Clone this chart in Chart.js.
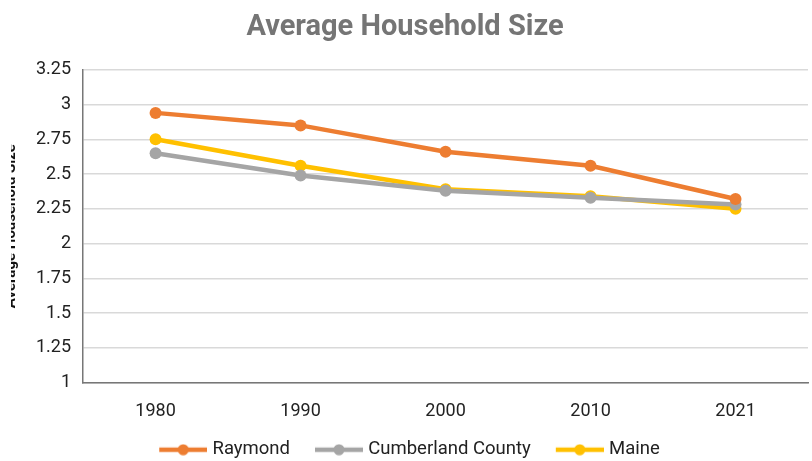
<!DOCTYPE html>
<html>
<head>
<meta charset="utf-8">
<script src="https://cdn.jsdelivr.net/npm/chart.js@4"></script>
<style>
  html, body { margin: 0; padding: 0; background: #fff; overflow: hidden; }
  #clip { position: absolute; left: 11px; top: 0; width: 801px; height: 461px; overflow: hidden; }
  #wrap { position: relative; width: 812px; height: 461px; margin-left: -9px; }
</style>
</head>
<body>
<div id="clip"><div id="wrap"><canvas id="chart"></canvas></div></div>
<script>
const years = ['1980', '1990', '2000', '2010', '2021']
const raymond = [2.94, 2.85, 2.66, 2.56, 2.32]
const cumberland = [2.65, 2.49, 2.38, 2.33, 2.28]
const maine = [2.75, 2.56, 2.39, 2.34, 2.25]
const yTicks = [1, 1.25, 1.5, 1.75, 2, 2.25, 2.5, 2.75, 3, 3.25]

const FONT = 'Roboto, "Noto Sans", sans-serif'

// "line with a dot" legend marker; transparent strip on the left widens the gap between items
function legendMarker(color) {
  const c = document.createElement('canvas')
  c.width = 61
  c.height = 12
  const ctx = c.getContext('2d')
  ctx.strokeStyle = color
  ctx.lineWidth = 4.5
  ctx.beginPath()
  ctx.moveTo(13, 6)
  ctx.lineTo(61, 6)
  ctx.stroke()
  ctx.fillStyle = color
  ctx.beginPath()
  ctx.arc(37, 6, 5.5, 0, Math.PI * 2)
  ctx.fill()
  return c
}

function series(label, data, color) {
  return {
    label,
    data,
    borderColor: color,
    backgroundColor: color,
    borderWidth: 4.5,
    pointRadius: 6,
    pointHoverRadius: 6,
    pointBorderWidth: 0,
    tension: 0,
    marker: legendMarker(color),
  }
}

new Chart(document.getElementById('chart'), {
  type: 'line',
  data: {
    labels: years,
    datasets: [
      series('Raymond', raymond, '#ED7D31'),
      series('Cumberland County', cumberland, '#A5A5A5'),
      series('Maine', maine, '#FFC000'),
    ],
  },
  options: {
    responsive: true,
    maintainAspectRatio: false,
    animation: false,
    layout: { padding: { left: 0, right: 6, top: 10, bottom: -8 } },
    plugins: {
      title: {
        display: true,
        text: 'Average Household Size',
        color: '#757575',
        font: { family: FONT, size: 29, weight: 'bold' },
        padding: { top: 0, bottom: 25 },
      },
      legend: {
        position: 'bottom',
        labels: {
          color: '#222',
          font: { family: FONT, size: 18.5 },
          usePointStyle: true,
          pointStyleWidth: 53,
          padding: 16,
          generateLabels(chart) {
            return chart.data.datasets.map((ds, i) => ({
              text: ds.label,
              pointStyle: ds.marker,
              fontColor: '#222',
              datasetIndex: i,
              hidden: false,
            }))
          },
        },
      },
      tooltip: { enabled: false },
    },
    scales: {
      x: {
        offset: true,
        afterFit(axis) {
          axis.paddingLeft = 0
          axis.paddingRight = 0
          axis.height = 42
        },
        grid: { display: false, drawTicks: false },
        border: { color: '#777', width: 1.5 },
        ticks: { color: '#222', font: { family: FONT, size: 18 }, padding: 18 },
      },
      y: {
        min: 1,
        max: 3.25,
        afterBuildTicks(axis) {
          axis.ticks = yTicks.map(v => ({ value: v }))
        },
        grid: { color: '#d9d9d9', lineWidth: 1.5, drawTicks: false },
        border: { color: '#777', width: 1.5 },
        ticks: {
          color: '#222',
          font: { family: FONT, size: 18 },
          padding: 12,
          callback: v => String(v),
        },
        title: {
          display: true,
          text: 'Average Household Size',
          color: '#111',
          font: { family: FONT, size: 15, weight: 'bold' },
          padding: { top: 0, bottom: 4 },
        },
      },
    },
  },
})
</script>
</body>
</html>
